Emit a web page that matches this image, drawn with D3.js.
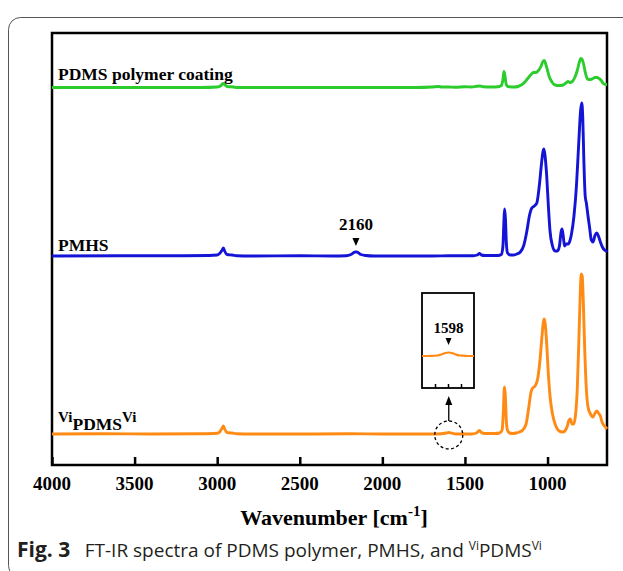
<!DOCTYPE html>
<html><head><meta charset="utf-8">
<script src="https://cdn.jsdelivr.net/npm/d3@7"></script>
<style>
html,body{margin:0;padding:0;background:#fff;}
svg{display:block;}
.serifb{font-family:'Liberation Serif','Times New Roman',Times,serif;font-weight:bold;}
</style></head>
<body>
<svg id="chart" width="623" height="571"></svg>
<script>
// ---------- data ----------
const xTicks = [4000, 3500, 3000, 2500, 2000, 1500, 1000];
const xDomain = [4000, 640];
const seriesNames = ["PDMS polymer coating", "PMHS", "ViPDMSVi"];
const seriesColors = ["#2ccc2c", "#1414d6", "#ff8a14"];
const seriesOffsets = [377.5, 209, 31]; // a.u. baseline of each stacked trace

const pdmsCoating = [[4000,0],[3500,0],[3100,0],[3000,0.5],[2980,1.5],[2965,4],[2955,3],[2940,1],[2900,0.5],[2880,0],[2500,0],[2000,0],[1800,0],[1700,0.5],[1660,1],[1640,0.5],[1600,0.5],[1560,0.3],[1500,0.8],[1460,0.5],[1430,1.2],[1410,1.5],[1390,0.8],[1340,0.5],[1300,0.8],[1280,2],[1270,8],[1264,16],[1258,12],[1250,3],[1240,1],[1220,0.5],[1200,0.5],[1180,1],[1160,2.5],[1140,5],[1120,9],[1100,13],[1085,15],[1070,15],[1055,17],[1040,21],[1028,26],[1020,27],[1012,24],[1000,17],[990,11],[975,6],[960,3],[940,2],[920,2],[900,3],[885,5],[875,6],[865,5],[850,6],[835,10],[820,17],[808,25],[798,29],[790,28],[780,22],[770,14],[760,9],[750,8],[740,8],[725,9],[712,10],[700,10],[688,9],[675,7],[662,4],[650,3],[640,3]];

const pmhs = [[4000,0],[3600,0.2],[3200,0.3],[3050,0.5],[3000,1],[2985,2.5],[2970,6],[2962,8],[2955,5],[2940,1.5],[2910,1],[2880,0.3],[2800,0],[2500,0.2],[2300,0],[2220,0.3],[2190,1.5],[2165,4],[2155,4],[2130,1.5],[2100,0.5],[2050,0],[1900,0],[1700,0],[1600,0.2],[1450,0.3],[1425,1],[1412,2.5],[1400,1],[1380,0.5],[1300,0.5],[1280,1.5],[1270,10],[1264,35],[1260,47],[1255,38],[1249,12],[1242,3],[1225,1],[1205,1],[1185,2],[1165,4],[1145,10],[1125,25],[1110,40],[1095,48],[1080,50],[1065,53],[1050,70],[1038,90],[1028,104],[1022,107],[1015,100],[1005,80],[995,50],[985,25],[970,10],[955,5],[940,5],[928,10],[918,24],[912,27],[905,20],[897,10],[888,12],[875,12],[865,15],[855,22],[840,40],[825,70],[812,110],[800,145],[793,153],[787,140],[780,95],[772,60],[765,53],[755,40],[745,28],[735,16],[725,14],[712,21],[702,23],[692,20],[680,14],[668,9],[655,6],[645,5],[640,4]];

const viPdmsVi = [[4000,0],[3700,0.3],[3400,0],[3100,0.3],[3000,0.8],[2985,2],[2970,6],[2962,8],[2955,5],[2940,1.5],[2910,1],[2880,0.3],[2800,0],[2500,0],[2200,0.2],[2000,0],[1800,0],[1700,0],[1640,0.3],[1615,1],[1598,1.5],[1580,0.8],[1550,0],[1460,0],[1430,1],[1412,3.5],[1400,1.5],[1380,0.5],[1320,0.5],[1290,1],[1275,4],[1268,20],[1261,47],[1256,40],[1250,15],[1243,4],[1230,1],[1210,0.5],[1190,1],[1170,2],[1150,4],[1130,10],[1115,25],[1100,42],[1090,46],[1075,48],[1060,55],[1045,75],[1035,95],[1025,112],[1020,115],[1014,110],[1005,90],[995,60],[985,38],[970,20],[950,8],[930,3],[910,2],[895,3],[880,8],[870,14],[862,15],[852,10],[842,10],[830,20],[820,45],[810,95],[802,140],[796,160],[790,158],[783,130],[775,85],[765,45],[755,27],[740,20],[725,17],[712,21],[702,23],[692,21],[680,18],[670,12],[660,9],[650,7],[640,5]];

const seriesData = [pdmsCoating, pmhs, viPdmsVi];

// inset (zoom of the 1598 cm-1 region of ViPDMSVi)
const insetDomain = [1700, 1500];
const insetTicks = [1650, 1600, 1550];
const insetData = [[1700,0],[1680,0],[1660,0.2],[1640,0.5],[1625,1.5],[1610,3],[1598,3.5],[1585,3],[1570,1.5],[1555,0.5],[1540,0.3],[1520,0],[1500,0]];

const annotations = [{label:"2160", wn:2160, series:1}];

// ---------- layout ----------
const svg = d3.select("#chart");
const L = 52, R = 607, T = 33, B = 465;

// outer rounded panel border
svg.append("rect").attr("x", 8.5).attr("y", 17.5).attr("width", 700).attr("height", 560)
  .attr("rx", 12).attr("fill", "none").attr("stroke", "#555").attr("stroke-width", 1);

const x = d3.scaleLinear().domain(xDomain).range([L, R]);
const y = d3.scaleLinear().domain([0, 433]).range([465, 32]);

// plot frame
svg.append("rect").attr("x", L).attr("y", T).attr("width", R - L).attr("height", B - T)
  .attr("fill", "none").attr("stroke", "#000").attr("stroke-width", 2.5);

// x axis (ticks inward), labels drawn as serif bold text
const xAxis = d3.axisBottom(x).tickValues(xTicks).tickSizeInner(-8).tickSizeOuter(0).tickFormat("");
const gx = svg.append("g").attr("transform", `translate(0,${B})`).call(xAxis);
gx.select(".domain").remove();
gx.selectAll(".tick line").attr("stroke", "#000").attr("stroke-width", 2.5);
svg.append("g").selectAll("text").data(xTicks).join("text")
  .attr("class", "serifb")
  .attr("x", d => x(d)).attr("y", 490).attr("text-anchor", "middle")
  .attr("font-size", 19).attr("fill", "#000").text(d => d3.format("d")(d));

// axis title
const xt = svg.append("text").attr("class", "serifb").attr("x", 334).attr("y", 525).attr("text-anchor", "middle")
  .attr("font-size", 22).attr("fill", "#000");
xt.append("tspan").text("Wavenumber [cm");
xt.append("tspan").text("-1").attr("font-size", 15).attr("dy", -9);
xt.append("tspan").text("]").attr("dy", 9);

// spectra
const line = d3.line().x(d => x(d[0])).curve(d3.curveMonotoneX);
seriesData.forEach((data, i) => {
  svg.append("path").datum(data)
    .attr("d", line.y(d => y(d[1] + seriesOffsets[i])))
    .attr("fill", "none").attr("stroke", seriesColors[i]).attr("stroke-width", 2.9)
    .attr("stroke-linejoin", "round");
});

// series labels
const lab = (txt, yy) => svg.append("text").attr("class", "serifb").attr("x", 58).attr("y", yy)
  .attr("font-size", 17.5).attr("fill", "#000").text(txt);
lab(seriesNames[0], 80);
lab(seriesNames[1], 251);
const vl = svg.append("text").attr("class", "serifb").attr("x", 58).attr("y", 430)
  .attr("font-size", 17.5).attr("fill", "#000");
vl.append("tspan").text("Vi").attr("font-size", 15).attr("dy", -8);
vl.append("tspan").text("PDMS").attr("dy", 8);
vl.append("tspan").text("Vi").attr("font-size", 15).attr("dy", -8);

// 2160 annotation
annotations.forEach(a => {
  const ax = x(a.wn);
  svg.append("text").attr("class", "serifb").attr("x", ax).attr("y", 230).attr("text-anchor", "middle")
    .attr("font-size", 17).attr("fill", "#000").text(a.label);
  svg.append("path").attr("d", `M${ax-3.5},238 L${ax+3.5},238 L${ax},246 Z`).attr("fill", "#000");
});

// dashed circle around 1598 on ViPDMSVi
const cx = x(1598), cy = y(seriesOffsets[2]);
svg.append("circle").attr("cx", cx).attr("cy", cy + 1).attr("r", 14)
  .attr("fill", "none").attr("stroke", "#000").attr("stroke-width", 1.3).attr("stroke-dasharray", "3,2.5");
// arrow up to inset
svg.append("line").attr("x1", cx).attr("x2", cx).attr("y1", cy - 13).attr("y2", 402)
  .attr("stroke", "#000").attr("stroke-width", 1.3);
svg.append("path").attr("d", `M${cx-3.5},405 L${cx+3.5},405 L${cx},396 Z`).attr("fill", "#000");

// inset box
const iL = 422, iR = 474, iT = 293, iB = 388;
svg.append("rect").attr("x", iL).attr("y", iT).attr("width", iR - iL).attr("height", iB - iT)
  .attr("fill", "#fff").attr("stroke", "#000").attr("stroke-width", 1.8);
const ix = d3.scaleLinear().domain(insetDomain).range([iL, iR]);
const iy = d3.scaleLinear().domain([0, 10]).range([356, 346]);
const gi = svg.append("g").attr("transform", `translate(0,${iB})`)
  .call(d3.axisBottom(ix).tickValues(insetTicks).tickSizeInner(-4).tickSizeOuter(0).tickFormat(""));
gi.select(".domain").remove();
gi.selectAll(".tick line").attr("stroke", "#000").attr("stroke-width", 1.5);
svg.append("path").datum(insetData)
  .attr("d", d3.line().x(d => ix(d[0])).y(d => iy(d[1])).curve(d3.curveMonotoneX))
  .attr("fill", "none").attr("stroke", seriesColors[2]).attr("stroke-width", 2.2);
svg.append("text").attr("class", "serifb").attr("x", ix(1598)).attr("y", 333).attr("text-anchor", "middle")
  .attr("font-size", 15).attr("fill", "#000").text("1598");
svg.append("path").attr("d", `M${ix(1598)-3},338 L${ix(1598)+3},338 L${ix(1598)},345 Z`).attr("fill", "#000");

// caption
const cap = svg.append("text").attr("x", 17).attr("y", 557)
  .style("font-family", "'Open Sans','Noto Sans',sans-serif").style("font-size", "19px").attr("fill", "#231f20");
cap.append("tspan").text("Fig. 3").style("font-weight", "bold").style("font-size", "21px");
cap.append("tspan").text("\u2002 FT-IR spectra of PDMS polymer, PMHS, and ");
cap.append("tspan").text("Vi").style("font-size", "12px").attr("dy", -7);
cap.append("tspan").text("PDMS").attr("dy", 7);
cap.append("tspan").text("Vi").style("font-size", "12px").attr("dy", -7);
</script>
</body></html>
